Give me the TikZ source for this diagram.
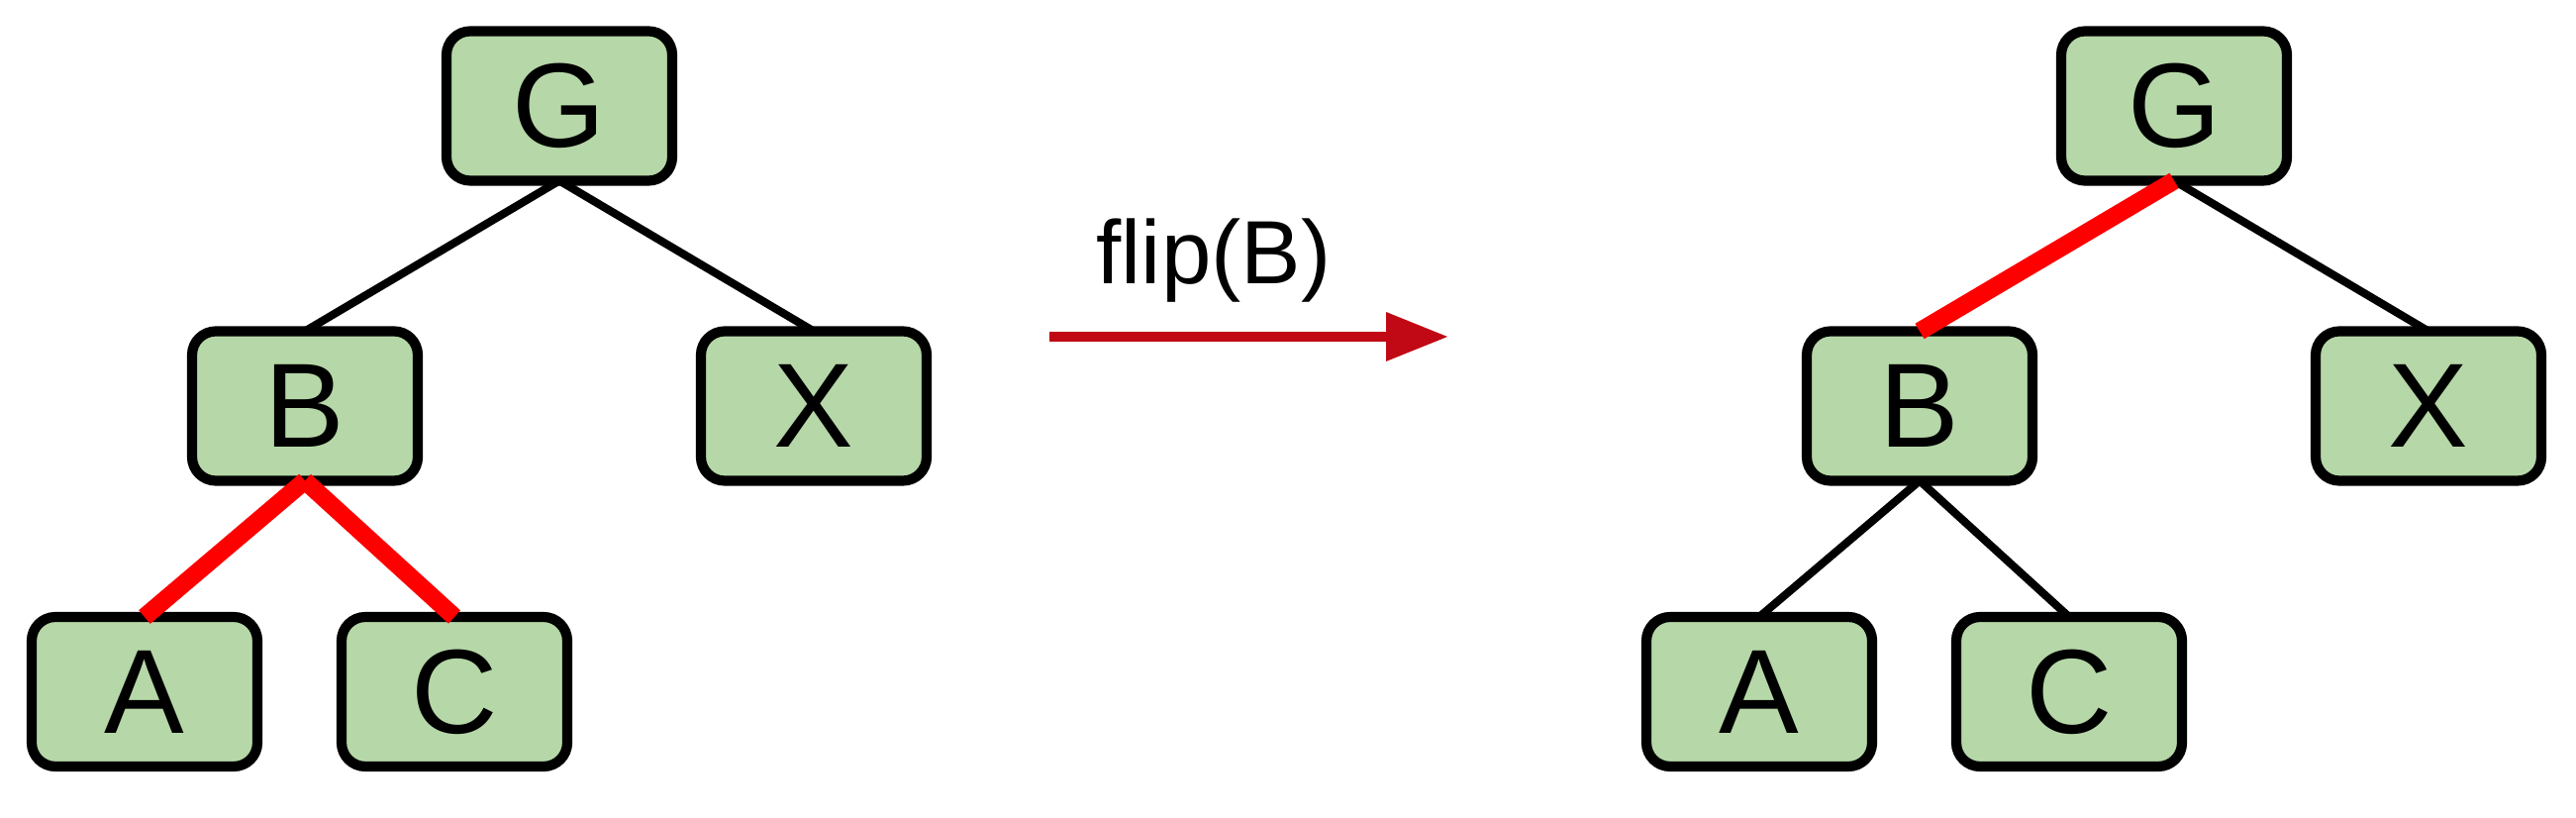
\documentclass[tikz,border=0pt]{standalone}
\usepackage{fontspec}
\setmainfont{Liberation Sans}
\usetikzlibrary{arrows.meta}
\definecolor{leafgreen}{HTML}{B6D7A8}
\definecolor{arrowred}{RGB}{192,9,20}

\begin{document}
\begin{tikzpicture}
			\useasboundingbox (0,0) rectangle (26.02,8.26);
			\begin{scope}[every node/.style={rectangle,rounded corners=2.4mm,draw=black,line width=2.9pt,fill=leafgreen,minimum width=2.28cm,minimum height=1.51cm,outer sep=0pt,inner sep=0pt,font=\fontsize{34.4}{40}\selectfont}]
				% before
				\node (G) at (5.65,7.19) {G};
				\node (B) at (3.08,4.16) {B};
				\node (X) at (8.22,4.16) {X};
				\node (A) at (1.46,1.275) {A};
				\node (C) at (4.59,1.275) {C};
				% after
				\node (G2) at (21.96,7.19) {G};
				\node (B2) at (19.39,4.16) {B};
				\node (X2) at (24.53,4.16) {X};
				\node (A2) at (17.77,1.275) {A};
				\node (C2) at (20.90,1.275) {C};
			\end{scope}
		
			\begin{scope}[every edge/.style={draw=black,line width=2.3pt}]
				\path (G.south) edge (B.north);
				\path (G.south) edge (X.north);
				\path (G2.south) edge (X2.north);
				\path (B2.south) edge (A2.north);
				\path (B2.south) edge (C2.north);
			\end{scope}
			
			\begin{scope}[every edge/.style={draw=red,line width=5.1pt}]
				\path (B.south) edge (A.north);
				\path (B.south) edge (C.north);
				\path (G2.south) edge (B2.north);
			\end{scope}
			
			\coordinate (from) at (10.60,4.86);
			\coordinate (to) at (14.63,4.86);
			\draw [arrowred,line width=2.85pt,-{Triangle[length=6.3mm,width=4.7mm]}] (from) -- (to);
			\node (op) [anchor=base,font=\fontsize{25.8}{30}\selectfont] at (12.26,5.39) {flip(B)};
		\end{tikzpicture}
\end{document}
